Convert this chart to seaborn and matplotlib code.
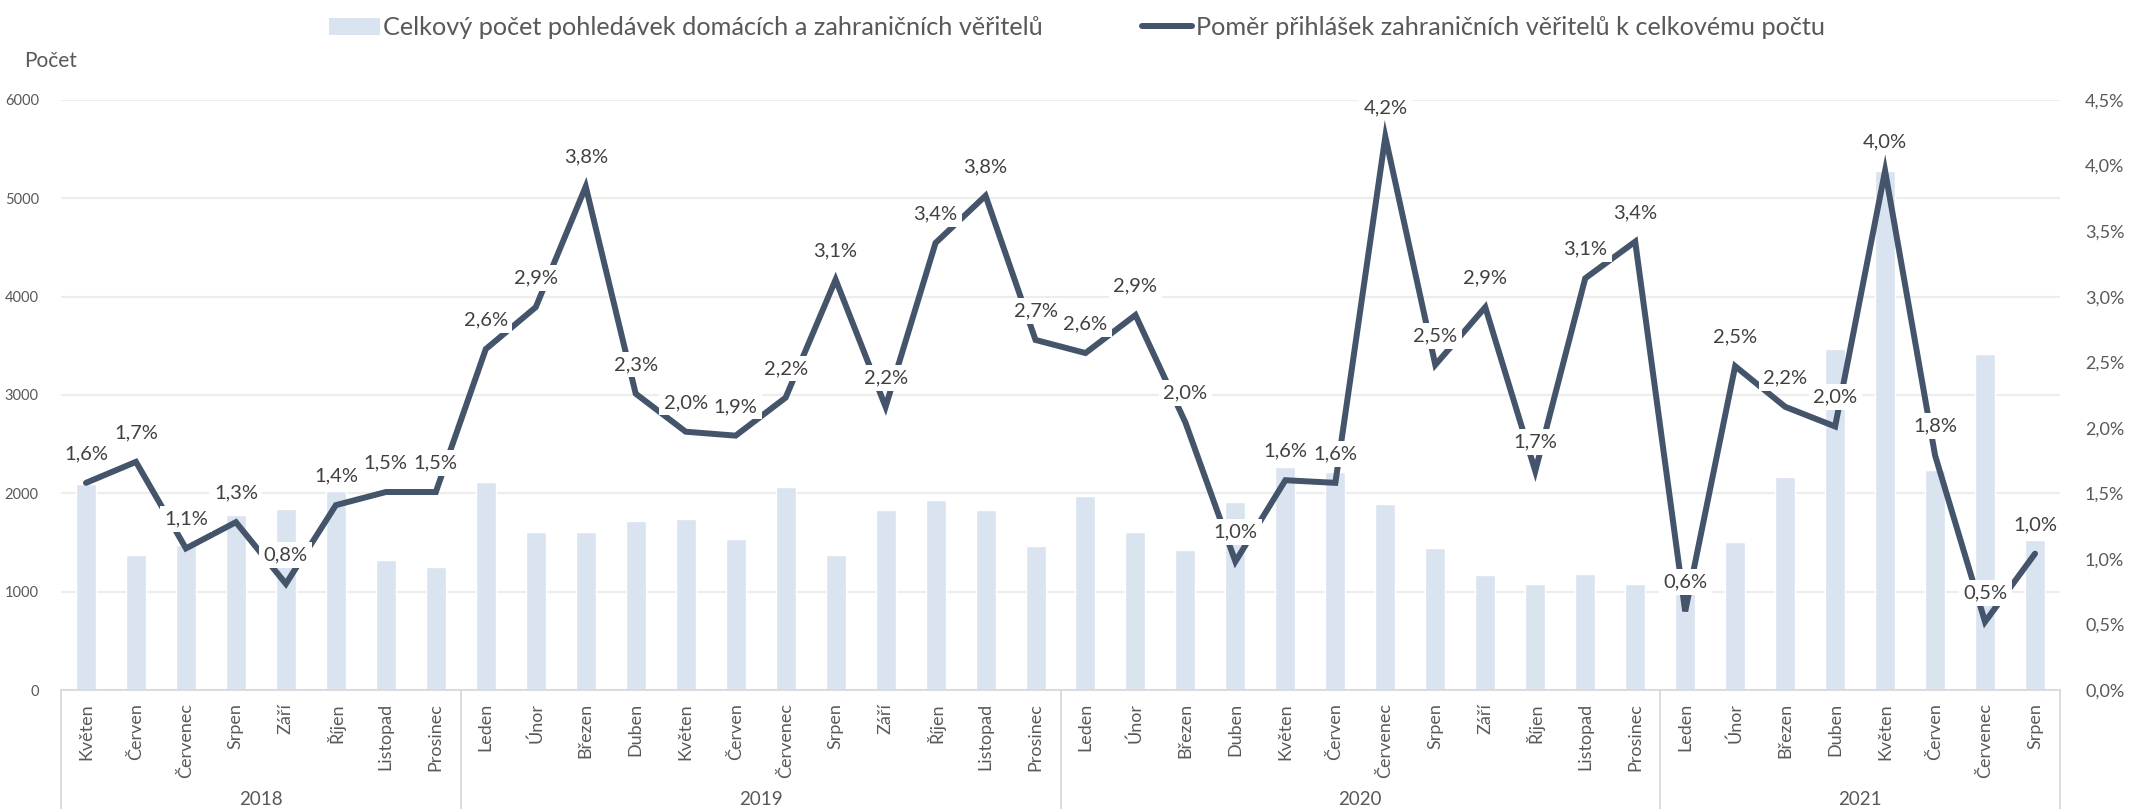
import matplotlib
matplotlib.use("Agg")
import matplotlib.pyplot as plt
from matplotlib.patches import Patch
from matplotlib.lines import Line2D
from matplotlib.ticker import FuncFormatter, MultipleLocator
import numpy as np
import pandas as pd
import seaborn as sns

years = ["2018", "2019", "2020", "2021"]
months_2018 = ["Květen", "Červen", "Červenec", "Srpen", "Září", "Říjen", "Listopad", "Prosinec"]
months_full = ["Leden", "Únor", "Březen", "Duben", "Květen", "Červen", "Červenec",
               "Srpen", "Září", "Říjen", "Listopad", "Prosinec"]
months_2021 = ["Leden", "Únor", "Březen", "Duben", "Květen", "Červen", "Červenec", "Srpen"]
months_by_year = [months_2018, months_full, months_full, months_2021]

pocet = [2090, 1375, 1470, 1780, 1840, 2025, 1320, 1255,
         2120, 1605, 1605, 1720, 1735, 1540, 2065, 1375, 1830, 1935, 1830, 1465,
         1975, 1605, 1425, 1910, 2270, 2220, 1890, 1445, 1165, 1080, 1175, 1080,
         1150, 1505, 2165, 3470, 5280, 2240, 3415, 1525]
pomer = [1.58, 1.74, 1.08, 1.28, 0.81, 1.41, 1.51, 1.51,
         2.60, 2.92, 3.84, 2.26, 1.97, 1.94, 2.23, 3.13, 2.16, 3.41, 3.77, 2.67,
         2.57, 2.86, 2.04, 0.98, 1.60, 1.58, 4.22, 2.48, 2.92, 1.67, 3.14, 3.42,
         0.60, 2.47, 2.16, 2.01, 3.96, 1.79, 0.52, 1.04]

bar_label = "Celkový počet pohledávek domácích a zahraničních věřitelů"
line_label = "Poměr přihlášek zahraničních věřitelů k celkovému počtu"

rows = []
for y, ms in zip(years, months_by_year):
    for m in ms:
        rows.append((y, m))
df = pd.DataFrame(rows, columns=["rok", "mesic"])
df["key"] = df["rok"] + "-" + df["mesic"]
df["pocet"] = pocet
df["pomer"] = pomer
df["pos"] = np.arange(len(df))

sns.set_theme(style="white")
plt.rcParams["font.family"] = ["Lato", "DejaVu Sans"]

bar_color = "#DAE3F0"
line_color = "#44546A"
grid_color = "#EDEDED"
axis_color = "#D9D9D9"
tick_color = "#595959"


def pct(v):
    return f"{v:.1f}".replace(".", ",") + "%"


fig = plt.figure(figsize=(21.34, 8.09), dpi=100)
ax = fig.add_axes([61 / 2134, 1 - 690 / 809, (2060 - 61) / 2134, 590 / 809])

sns.barplot(data=df, x="key", y="pocet", color=bar_color, saturation=1,
            width=0.4, ax=ax, zorder=2)
ax.set_xlim(-0.5, len(df) - 0.5)
ax.set_ylim(0, 6000)
ax.yaxis.set_major_locator(MultipleLocator(1000))
ax.grid(axis="y", color=grid_color, lw=1.6, zorder=0)
ax.set_axisbelow(True)
ax.set_xlabel("")
ax.set_ylabel("")
ax.set_xticks([])
for s in ["top", "left", "right"]:
    ax.spines[s].set_visible(False)
ax.spines["bottom"].set_color(axis_color)
ax.spines["bottom"].set_linewidth(1.3)
ax.tick_params(axis="y", length=0, pad=16, labelsize=10.5, labelcolor=tick_color)

ax2 = ax.twinx()
sns.lineplot(x=df["pos"], y=df["pomer"], ax=ax2, color=line_color, lw=4.3,
             sort=False, zorder=3)
ax2.lines[0].set_solid_joinstyle("miter")
ax2.set_ylim(0, 4.5)
ax2.yaxis.set_major_locator(MultipleLocator(0.5))
ax2.yaxis.set_major_formatter(FuncFormatter(lambda v, p: pct(v)))
ax2.tick_params(axis="y", length=0, pad=18, labelsize=13, labelcolor=tick_color)
ax2.set_xlabel("")
ax2.set_ylabel("")
for s in ["top", "left", "right", "bottom"]:
    ax2.spines[s].set_visible(False)
ax2.set_xlim(-0.5, len(df) - 0.5)

for x, v in zip(df["pos"], df["pomer"]):
    ax2.annotate(pct(v), xy=(x, v), xytext=(0, 21),
                 textcoords="offset points", ha="center", va="center",
                 fontsize=14.5, color="#404040", zorder=5, annotation_clip=False,
                 bbox=dict(boxstyle="square,pad=0.22", fc="white", ec="none"))

# months, rotated, under the axis
for x, m in zip(df["pos"], df["mesic"]):
    ax.annotate(m, xy=(x, 0), xycoords=("data", "axes fraction"), xytext=(0, -9.5),
                textcoords="offset points", rotation=90, ha="center", va="top",
                fontsize=13, color=tick_color)

# year groups with separators
bottom = -(809 - 690) / 590
edges = [-0.5]
for y in years:
    sub = df[df["rok"] == y]
    edges.append(sub["pos"].max() + 0.5)
    ax.annotate(y, xy=(sub["pos"].mean(), 0), xycoords=("data", "axes fraction"),
                xytext=(0, -79), textcoords="offset points", ha="center", va="center",
                fontsize=13.5, color=tick_color)
for e in edges:
    ax.plot([e, e], [0, bottom], transform=ax.get_xaxis_transform(), color=axis_color,
            lw=1.3, clip_on=False)

fig.text(24 / 2134, 1 - 61 / 809, "Počet", ha="left", va="center", fontsize=15,
         color=tick_color)

handles = [Patch(facecolor=bar_color, edgecolor="none"),
           Line2D([0], [0], color=line_color, lw=4.3)]
fig.legend(handles, [bar_label, line_label], loc="upper center",
           bbox_to_anchor=(1077 / 2134, 1.008), ncol=2, frameon=False, fontsize=18.2,
           handlelength=2.0, handletextpad=0.15, columnspacing=3.9, labelcolor=tick_color)

plt.savefig("out.png", dpi=100)
